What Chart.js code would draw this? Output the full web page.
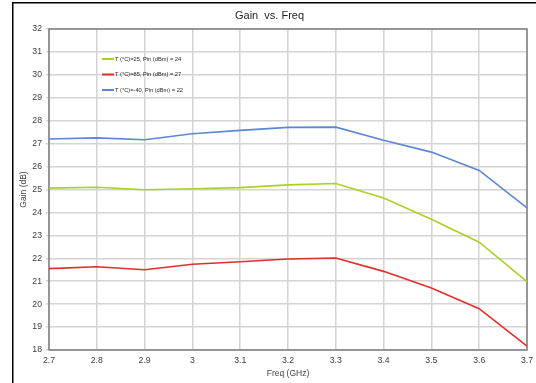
<!DOCTYPE html>
<html>
<head>
<meta charset="utf-8">
<script src="https://cdn.jsdelivr.net/npm/chart.js@4/dist/chart.umd.min.js"></script>
<style>
  html, body { margin: 0; padding: 0; background: #fff; }
  #wrap { width: 536px; height: 383px; position: relative; }
</style>
</head>
<body>
<div id="wrap"><canvas id="c" width="536" height="383"></canvas></div>
<script>
const freqLabels = ['2.7','2.8','2.9','3','3.1','3.2','3.3','3.4','3.5','3.6','3.7'];
const gainT25  = [25.06, 25.10, 24.99, 25.03, 25.08, 25.20, 25.26, 24.63, 23.70, 22.70, 20.98];
const gainT85  = [21.55, 21.63, 21.50, 21.74, 21.85, 21.97, 22.01, 21.43, 20.70, 19.80, 18.17];
const gainTm40 = [27.20, 27.25, 27.17, 27.43, 27.58, 27.71, 27.72, 27.15, 26.63, 25.83, 24.20];
const seriesNames = ['T (°C)=25, Pin (dBm) = 24', 'T (°C)=85, Pin (dBm) = 27', 'T (°C)=-40, Pin (dBm) = 22'];
const seriesColors = ['#a9d12a', '#e0302a', '#5b87d6'];
const yMin = 18, yMax = 32;

const FONT = "'Liberation Sans', Arial, sans-serif";

const framePlugin = {
  id: 'frame',
  beforeDraw(chart) {
    const ctx = chart.ctx;
    ctx.save();
    ctx.strokeStyle = '#000';
    ctx.lineWidth = 1.5;
    ctx.strokeRect(12.75, 2.75, 540, 400);
    ctx.restore();
  },
  beforeDatasetsDraw(chart) {
    const a = chart.chartArea, ctx = chart.ctx;
    ctx.save();
    ctx.strokeStyle = '#7f7f7f';
    ctx.lineWidth = 1.5;
    ctx.strokeRect(a.left, a.top, a.right - a.left, a.bottom - a.top);
    ctx.restore();
  },
  afterDraw(chart) {
    const a = chart.chartArea, ctx = chart.ctx;
    ctx.save();
    ctx.font = '5.7px ' + FONT;
    ctx.textBaseline = 'middle';
    ctx.fillStyle = '#262626';
    chart.data.datasets.forEach((ds, i) => {
      const y = a.top + 30 + i * 15.5;
      const x0 = a.left + 53;
      ctx.strokeStyle = ds.borderColor;
      ctx.lineWidth = 2;
      ctx.beginPath();
      ctx.moveTo(x0, y);
      ctx.lineTo(x0 + 12, y);
      ctx.stroke();
      ctx.fillText(ds.label, x0 + 13, y);
    });
    ctx.restore();
  }
};

new Chart(document.getElementById('c'), {
  type: 'line',
  data: {
    labels: freqLabels,
    datasets: [
      { label: seriesNames[0], data: gainT25, borderColor: seriesColors[0] },
      { label: seriesNames[1], data: gainT85, borderColor: seriesColors[1] },
      { label: seriesNames[2], data: gainTm40, borderColor: seriesColors[2] }
    ].map(d => Object.assign(d, { borderWidth: 1.6, pointRadius: 0, tension: 0, fill: false }))
  },
  options: {
    responsive: false,
    animation: false,
    layout: { padding: { left: 12, right: 9, top: 0, bottom: 0 } },
    plugins: {
      legend: { display: false },
      tooltip: { enabled: false },
      title: {
        display: true,
        text: 'Gain  vs. Freq',
        color: '#262626',
        font: { family: FONT, size: 11, weight: 'normal', lineHeight: 1.2 },
        padding: { top: 9, bottom: 6.8 }
      }
    },
    scales: {
      x: {
        type: 'category',
        offset: false,
        grid: { color: '#d4d4d4', lineWidth: 1.5, drawTicks: false },
        border: { display: false },
        ticks: { color: '#404040', font: { family: FONT, size: 8.7 }, padding: 5, maxRotation: 0, autoSkip: false },
        title: { display: true, text: 'Freq (GHz)', color: '#404040', font: { family: FONT, size: 8.5 }, padding: { top: 0, bottom: 4 } },
        afterFit(scale) { scale.height = 33; scale.paddingRight = 0; scale.paddingLeft = 0; }
      },
      y: {
        min: yMin, max: yMax,
        grid: { color: '#d4d4d4', lineWidth: 1.5, tickLength: 3 },
        border: { display: false },
        ticks: { stepSize: 1, color: '#404040', font: { family: FONT, size: 8.7 }, padding: 4 },
        title: { display: true, text: 'Gain (dB)', color: '#404040', font: { family: FONT, size: 8.5 }, padding: { top: 7, bottom: 0 } },
        afterFit(scale) { scale.width = 37; scale.paddingTop = 0; scale.paddingBottom = 0; }
      }
    }
  },
  plugins: [framePlugin]
});
</script>
</body>
</html>
